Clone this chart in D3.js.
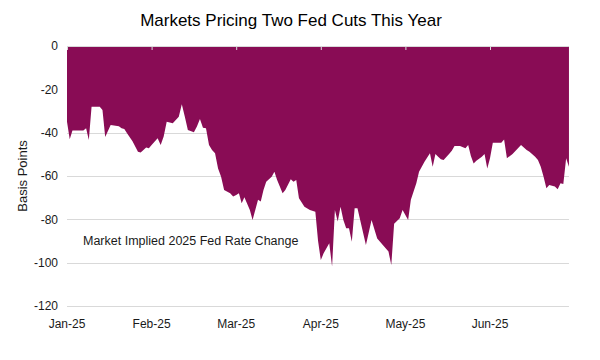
<!DOCTYPE html>
<html><head><meta charset="utf-8">
<script src="https://cdn.jsdelivr.net/npm/d3@7"></script>
<style>body{margin:0;background:#fff;font-family:"Liberation Sans",Arial,sans-serif;}</style>
</head><body><svg id="c" width="600" height="360"></svg>
<script>
const title = "Markets Pricing Two Fed Cuts This Year";
const yTitle = "Basis Points";
const annotation = "Market Implied 2025 Fed Rate Change";
const yTicks = [0, -20, -40, -60, -80, -100, -120];
const monthTicks = ["2025-01-01","2025-02-01","2025-03-01","2025-04-01","2025-05-01","2025-06-01"];
const monthEnd = "2025-07-01";
const dates = [
"2025-01-01","2025-01-02","2025-01-03","2025-01-07","2025-01-08","2025-01-09","2025-01-10","2025-01-13","2025-01-14","2025-01-15","2025-01-17","2025-01-20","2025-01-21","2025-01-22","2025-01-23","2025-01-25","2025-01-27","2025-01-28","2025-01-30","2025-01-31",
"2025-02-01","2025-02-03","2025-02-04","2025-02-05","2025-02-06","2025-02-08","2025-02-10","2025-02-11","2025-02-12","2025-02-13","2025-02-15","2025-02-16","2025-02-17","2025-02-18","2025-02-19","2025-02-20","2025-02-21","2025-02-22","2025-02-23","2025-02-24","2025-02-25","2025-02-27","2025-02-28",
"2025-03-01","2025-03-02","2025-03-03","2025-03-04","2025-03-06","2025-03-07","2025-03-09","2025-03-10","2025-03-11","2025-03-12","2025-03-14","2025-03-15","2025-03-16","2025-03-18","2025-03-19","2025-03-21","2025-03-22","2025-03-23","2025-03-24","2025-03-26","2025-03-28","2025-03-30","2025-03-31",
"2025-04-01","2025-04-02","2025-04-04","2025-04-05","2025-04-06","2025-04-07","2025-04-08","2025-04-09","2025-04-10","2025-04-11","2025-04-12","2025-04-13","2025-04-14","2025-04-17","2025-04-19","2025-04-21","2025-04-23","2025-04-25","2025-04-26","2025-04-27","2025-04-29","2025-04-30",
"2025-05-02","2025-05-03","2025-05-04","2025-05-05","2025-05-06","2025-05-08","2025-05-10","2025-05-11","2025-05-12","2025-05-13","2025-05-14","2025-05-15","2025-05-17","2025-05-18","2025-05-19","2025-05-21","2025-05-23","2025-05-24","2025-05-25","2025-05-26","2025-05-27","2025-05-29","2025-05-30","2025-05-31",
"2025-06-01","2025-06-02","2025-06-05","2025-06-06","2025-06-07","2025-06-09","2025-06-12","2025-06-14","2025-06-15","2025-06-17","2025-06-18","2025-06-19","2025-06-20","2025-06-21","2025-06-22","2025-06-24","2025-06-25","2025-06-26","2025-06-27","2025-06-28","2025-06-29"
];
const values = [
-35,-43,-39,-39,-38,-43.4,-28,-28,-29.5,-42,-36.5,-37,-38,-38.3,-40.3,-44,-48.8,-49.2,-46.8,-47.2,
-45.7,-42.6,-45.7,-41.8,-35,-35.7,-32.6,-26.9,-32.6,-38.8,-39.8,-37.2,-33.7,-37.7,-38,-45.7,-48,-49.5,-56.5,-60.3,-66.5,-68,-69.5,
-68.8,-68,-72.6,-69.8,-75.7,-80.3,-71,-71.8,-66.5,-62.6,-60.3,-58,-61.8,-68,-66.5,-61.5,-62.6,-61.8,-70.3,-74.2,-75.7,-76.5,-90,
-98.8,-95.7,-91,-101.8,-75.7,-81,-74.2,-80.3,-84.1,-84.1,-90.3,-74.9,-74.9,-91.8,-80.3,-88.8,-91.8,-94.9,-101.1,-82,-79.5,-75.7,
-80.3,-71,-67.2,-63.4,-58,-53.4,-49.5,-55.7,-49.8,-51.1,-52.3,-52.6,-49.8,-48.3,-46.2,-46.2,-47.2,-45.7,-50.8,-54.2,-53,-51.1,-49.8,-56.5,
-51.8,-44.6,-44.6,-43.1,-51.8,-49.8,-45.7,-48,-48.8,-51.1,-52.6,-55.7,-60.3,-65.7,-64.2,-64.9,-66.1,-63.4,-63.7,-51.8,-55.7
];

const parse = d3.utcParse("%Y-%m-%d");
const data = dates.map((d, i) => ({date: parse(d), value: values[i]}));

const svg = d3.select("#c");
const mLeft = 67, mTop = 46, monthW = 84.6, plotH = 260;
const lastDate = data[data.length - 1].date;
const mDomain = monthTicks.concat([monthEnd]).map(parse);
const x = d3.scaleUtc().domain(mDomain).range(mDomain.map((d, i) => mLeft + i * monthW));
const xRight = x(lastDate);
const y = d3.scaleLinear().domain([-120, 0]).range([mTop + plotH, mTop]);

// gridlines
svg.append("g").selectAll("line").data(yTicks.filter(v => v !== 0)).join("line")
  .attr("x1", mLeft).attr("x2", xRight).attr("y1", d => Math.round(y(d)) + 0.5).attr("y2", d => Math.round(y(d)) + 0.5)
  .attr("stroke", "#d9d9d9").attr("stroke-width", 1);

// area
const area = d3.area().x(d => x(d.date)).y0(y(0)).y1(d => y(d.value)).curve(d3.curveLinear);
svg.append("path").datum(data).attr("d", area).attr("fill", "#890c55");

// x axis at zero with ticks
const xAxis = d3.axisBottom(x).tickValues(monthTicks.map(parse)).tickSize(4).tickFormat("");
const gx = svg.append("g").attr("transform", `translate(0,${y(0)})`).call(xAxis);
gx.select(".domain").attr("stroke", "#d9d9d9").attr("d", `M${mLeft},0.5H${xRight}`);
gx.selectAll(".tick line").attr("stroke", "#d9d9d9");

// x labels at bottom
const fmt = d3.utcFormat("%b-%y");
svg.append("g").selectAll("text").data(monthTicks.map(parse)).join("text")
  .attr("x", d => x(d)).attr("y", 328).attr("text-anchor", "middle")
  .attr("font-size", 12).attr("fill", "#1a1a1a").text(d => fmt(d));

// y axis labels
const yAxis = d3.axisLeft(y).tickValues(yTicks).tickSize(0).tickPadding(9).tickFormat(d => String(d));
const gy = svg.append("g").attr("transform", `translate(${mLeft},0)`).call(yAxis);
gy.select(".domain").remove();
gy.selectAll("text").attr("font-size", 12).attr("fill", "#1a1a1a").attr("font-family", "Liberation Sans, Arial, sans-serif");

// y title
svg.append("text").attr("transform", `translate(27,${mTop + plotH / 2}) rotate(-90)`)
  .attr("text-anchor", "middle").attr("font-size", 13).attr("fill", "#1a1a1a").text(yTitle);

// title
svg.append("text").attr("x", 291).attr("y", 26).attr("text-anchor", "middle")
  .attr("font-size", 17).attr("fill", "#000").text(title);

// annotation
svg.append("text").attr("x", 83).attr("y", 245).attr("font-size", 12.5).attr("fill", "#1a1a1a").text(annotation);
</script></body></html>
